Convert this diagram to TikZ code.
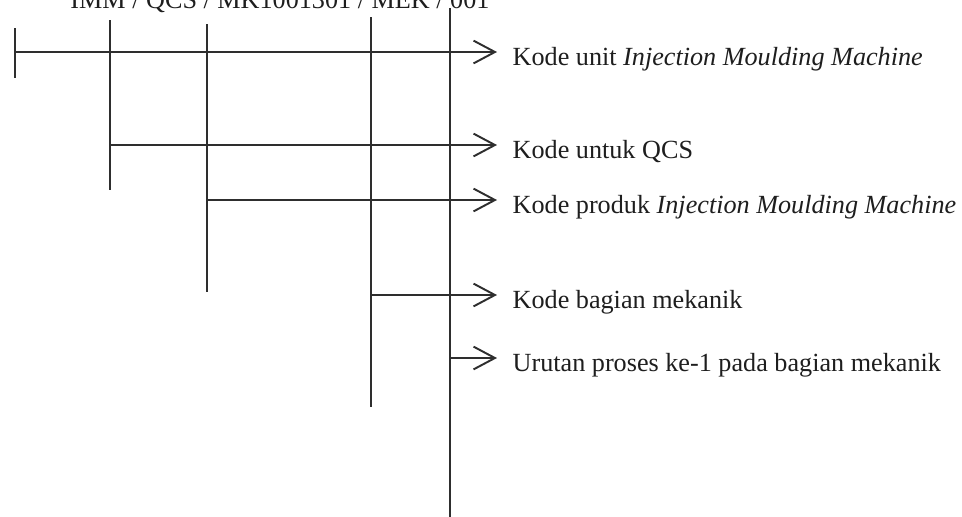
\documentclass[tikz,border=0pt]{standalone}
\usepackage{fontspec}
\setmainfont{Liberation Serif}
\usepackage{xcolor}
\usetikzlibrary{arrows.meta}
\definecolor{inkline}{HTML}{2E2E2E}
\definecolor{inktext}{HTML}{1E1E1E}
\tikzset{
  codeline/.style={line width=0.8pt, draw=inkline},
  codearrow/.style={-{Straight Barb[length=3.1mm, width=3.3mm, line width=0.8pt]}, line width=0.8pt, draw=inkline},
  codelabel/.style={anchor=base west, inner xsep=2.2mm, inner ysep=0pt, font=\fontsize{10.8}{12}\selectfont, text=inktext},
  codetitle/.style={anchor=base west, inner sep=0pt, font=\fontsize{10.8}{12}\selectfont, text=inktext}
}

\begin{document}
\begin{tikzpicture}[x=0.0145cm, y=-0.0145cm]
  \useasboundingbox (0,0) rectangle (962,516);
  \clip (0,0) rectangle (962,516);

  \node[codetitle] (title) at (70,8) {IMM / QCS / MK1001301 / MEK / 001};

  \coordinate (u1) at (15,28);  \coordinate (d1) at (15,78);
  \coordinate (u2) at (110,20); \coordinate (d2) at (110,190);
  \coordinate (u3) at (207,24); \coordinate (d3) at (207,292);
  \coordinate (u4) at (371,17); \coordinate (d4) at (371,407);
  \coordinate (u5) at (450,8);  \coordinate (d5) at (450,520);

  \draw[codeline] (u1) -- (d1);
  \draw[codeline] (u2) -- (d2);
  \draw[codeline] (u3) -- (d3);
  \draw[codeline] (u4) -- (d4);
  \draw[codeline] (u5) -- (d5);

  \node[codelabel] (unit) at (497,65)
    {Kode unit \textit{Injection Moulding Machine}};
  \node[codelabel] (qcs) at (497,158) {Kode untuk QCS};
  \node[codelabel] (produk) at (497,213)
    {Kode produk \textit{Injection Moulding Machine}};
  \node[codelabel] (mekanik) at (497,308) {Kode bagian mekanik};
  \node[codelabel] (urutan) at (497,371) {Urutan proses ke-1 pada bagian mekanik};

  \coordinate (r1) at (15,52);
  \coordinate (r2) at (110,145);
  \coordinate (r3) at (207,200);
  \coordinate (r4) at (371,295);
  \coordinate (r5) at (450,358);

  \draw[codearrow] (r1) -- (r1 -| unit.west);
  \draw[codearrow] (r2) -- (r2 -| qcs.west);
  \draw[codearrow] (r3) -- (r3 -| produk.west);
  \draw[codearrow] (r4) -- (r4 -| mekanik.west);
  \draw[codearrow] (r5) -- (r5 -| urutan.west);
\end{tikzpicture}
\end{document}
